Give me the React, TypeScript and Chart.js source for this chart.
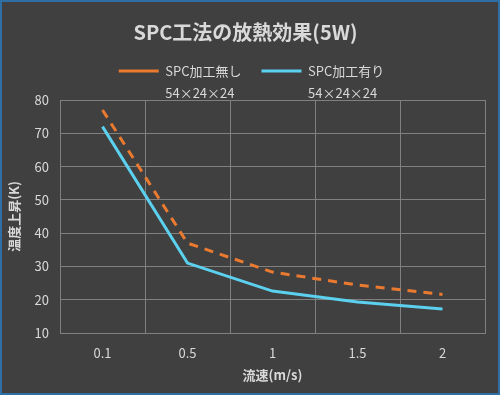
import React, { useEffect, useRef } from "react";
import { Chart, registerables } from "chart.js";

Chart.register(...registerables);

const categories = ["0.1", "0.5", "1", "1.5", "2"];
const seriesNames = ["SPC加工無し", "SPC加工有り"];
const seriesSubLabels = ["54×24×24", "54×24×24"];
const withoutProcessing = [77, 37, 28.3, 24.4, 21.6];
const withProcessing = [72, 31, 22.6, 19.3, 17.2];
const yTicksMin = 10;
const yTicksMax = 80;
const yStep = 10;

const FONT = "'Noto Sans CJK JP', 'Noto Sans', sans-serif";
const TEXT = "#d9d9d9";
const GRID = "#808080";
const LEGEND_SHIFT = 6;

export default function App() {
  const ref = useRef<HTMLCanvasElement | null>(null);

  useEffect(() => {
    document.body.style.margin = "0";
    const canvas = ref.current;
    if (!canvas) return;

    const legendFitPlugin = {
      id: "legendFit",
      beforeInit(chart: any) {
        const legend = chart.legend;
        if (!legend) return;
        const origFit = legend.fit;
        legend.fit = function () {
          origFit.call(this);
          this.height = 55.5;
        };
        const origDraw = legend.draw;
        legend.draw = function (...args: any[]) {
          const ctx = this.ctx;
          ctx.save();
          ctx.translate(LEGEND_SHIFT, 0);
          origDraw.apply(this, args);
          ctx.restore();
        };
      },
    };

    const subLabelPlugin = {
      id: "subLabels",
      afterDraw(chart: any) {
        const legend = chart.legend;
        if (!legend || !legend.legendHitBoxes) return;
        const ctx = chart.ctx;
        ctx.save();
        ctx.fillStyle = TEXT;
        ctx.font = `13px ${FONT}`;
        ctx.textAlign = "left";
        ctx.textBaseline = "middle";
        const boxW = legend.options.labels.pointStyleWidth;
        legend.legendHitBoxes.forEach((hb: any, i: number) => {
          const x = hb.left + boxW + 6.5 + LEGEND_SHIFT;
          ctx.fillText(seriesSubLabels[i], x, hb.top + hb.height / 2 + 22);
        });
        ctx.restore();
      },
    };

    const chart = new Chart(canvas, {
      type: "line",
      data: {
        labels: categories,
        datasets: [
          {
            label: seriesNames[0],
            data: withoutProcessing,
            borderColor: "#ea7a2f",
            backgroundColor: "#ea7a2f",
            borderWidth: 3,
            borderDash: [9, 7],
            pointRadius: 0,
            pointStyle: "line",
            tension: 0,
          },
          {
            label: seriesNames[1],
            data: withProcessing,
            borderColor: "#5bd1ef",
            backgroundColor: "#5bd1ef",
            borderWidth: 3,
            pointRadius: 0,
            pointStyle: "line",
            tension: 0,
          },
        ],
      },
      options: {
        animation: false,
        responsive: false,
        maintainAspectRatio: false,
        layout: { padding: { left: 6, right: 15, top: 0, bottom: 0 } },
        plugins: {
          title: {
            display: true,
            text: "SPC工法の放熱効果(5W)",
            color: TEXT,
            font: { family: FONT, size: 20, weight: "bold" },
            padding: { top: 20, bottom: 0.5 },
          },
          legend: {
            display: true,
            position: "top",
            labels: {
              color: TEXT,
              font: { family: FONT, size: 13 },
              usePointStyle: true,
              pointStyleWidth: 40,
              padding: 20,
            },
          },
          tooltip: { enabled: false },
        },
        scales: {
          x: {
            type: "category",
            offset: true,
            grid: { color: GRID, offset: true, drawTicks: false, lineWidth: 1 },
            border: { color: GRID },
            ticks: { color: TEXT, font: { family: FONT, size: 13 }, padding: 12 },
            title: {
              display: true,
              text: "流速(m/s)",
              color: TEXT,
              font: { family: FONT, size: 13, weight: "bold" },
              padding: { top: 0, bottom: 12 },
            },
            afterFit(scale: any) {
              scale.height = 62;
            },
          },
          y: {
            min: yTicksMin,
            max: yTicksMax,
            grid: { color: GRID, drawTicks: false, lineWidth: 1 },
            border: { color: GRID },
            ticks: {
              stepSize: yStep,
              color: TEXT,
              font: { family: FONT, size: 13 },
              padding: 11,
            },
            title: {
              display: true,
              text: "温度上昇(K)",
              color: TEXT,
              font: { family: FONT, size: 13, weight: "bold" },
              padding: { top: 0, bottom: 0 },
            },
            afterFit(scale: any) {
              scale.width = 54;
            },
          },
        },
      },
      plugins: [legendFitPlugin, subLabelPlugin],
    } as any);

    return () => chart.destroy();
  }, []);

  return (
    <div
      style={{
        position: "fixed",
        left: 0,
        top: 0,
        width: 500,
        height: 395,
        background: "#404040",
      }}
    >
      <canvas ref={ref} width={500} height={395} style={{ display: "block" }} />
      <div
        style={{
          position: "absolute",
          left: 0,
          top: 0,
          width: 500,
          height: 395,
          boxSizing: "border-box",
          border: "2px solid #2f6fa3",
          pointerEvents: "none",
        }}
      />
    </div>
  );
}
